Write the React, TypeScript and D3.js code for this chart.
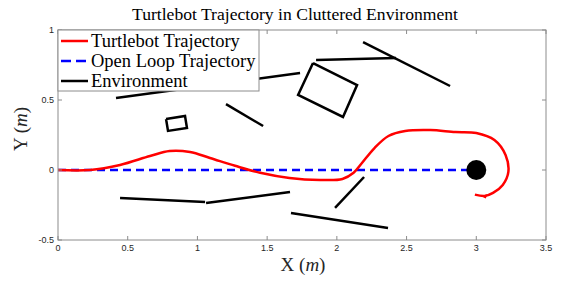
import * as d3 from "d3";

const W = 566;
const H = 282;
const MARGIN = { top: 30, right: 20, bottom: 42, left: 58 };

const xTicks = [0, 0.5, 1, 1.5, 2, 2.5, 3, 3.5];
const yTicks = [-0.5, 0, 0.5, 1];

// robot trajectory
const trajX = [0, 0.23, 0.445, 0.66, 0.8, 0.947, 1.09, 1.27, 1.45, 1.66, 1.88, 2.04, 2.12, 2.18, 2.27, 2.37, 2.49, 2.67, 2.85, 3.0, 3.13, 3.21, 3.23, 3.19, 3.12, 3.06, 2.99];
const trajY = [0, 0, 0.036, 0.1, 0.136, 0.129, 0.086, 0.03, -0.02, -0.057, -0.071, -0.064, -0.02, 0.05, 0.157, 0.243, 0.279, 0.286, 0.271, 0.264, 0.214, 0.107, -0.014, -0.107, -0.164, -0.186, -0.176];
// little hook at the end of the trajectory
const hookX = [3.05, 3.065, 3.06];
const hookY = [-0.19, -0.186, -0.2];

const openLoopX = [0, 3.0];
const openLoopY = [0, 0];

const goal = [3.0, 0];

// obstacles, each one a polyline
const envSegments: [number, number][][] = [
  [[0.416, 0.514], [1.736, 0.693]],
  [[1.829, 0.764], [2.145, 0.607], [2.044, 0.379], [1.722, 0.536], [1.829, 0.764]],
  [[1.851, 0.786], [2.425, 0.8]],
  [[2.188, 0.914], [2.812, 0.6]],
  [[0.775, 0.364], [0.911, 0.386], [0.925, 0.3], [0.789, 0.279], [0.775, 0.364]],
  [[1.205, 0.471], [1.471, 0.314]],
  [[0.445, -0.2], [1.055, -0.229]],
  [[1.062, -0.236], [1.664, -0.157]],
  [[1.671, -0.307], [2.367, -0.414]],
  [[1.987, -0.271], [2.195, -0.05]],
];

const legendItems = [
  { label: "Turtlebot Trajectory", color: "#ff0000", dash: "" },
  { label: "Open Loop Trajectory", color: "#0000ff", dash: "10,5" },
  { label: "Environment", color: "#000000", dash: "" },
];

export default function App() {
  const boundsWidth = W - MARGIN.left - MARGIN.right;
  const boundsHeight = H - MARGIN.top - MARGIN.bottom;

  const xScale = d3.scaleLinear().domain([0, 3.5]).range([MARGIN.left, MARGIN.left + boundsWidth]);
  const yScale = d3.scaleLinear().domain([-0.5, 1]).range([MARGIN.top + boundsHeight, MARGIN.top]);

  const line = d3
    .line<[number, number]>()
    .x((d) => xScale(d[0]))
    .y((d) => yScale(d[1]));
  const smooth = d3
    .line<[number, number]>()
    .x((d) => xScale(d[0]))
    .y((d) => yScale(d[1]))
    .curve(d3.curveCatmullRom.alpha(0.5));

  const traj = trajX.map((x, i) => [x, trajY[i]] as [number, number]);
  const hook = hookX.map((x, i) => [x, hookY[i]] as [number, number]);
  const openLoop = openLoopX.map((x, i) => [x, openLoopY[i]] as [number, number]);

  const x0 = MARGIN.left;
  const x1 = MARGIN.left + boundsWidth;
  const y0 = MARGIN.top;
  const y1 = MARGIN.top + boundsHeight;
  const axisColor = "#8c8c8c";
  const tickLen = 4;

  return (
    <svg width={W} height={H} style={{ position: "absolute", left: 0, top: 0, background: "white" }}>
      <text x={295} y={20} textAnchor="middle" fontFamily="Liberation Serif" fontSize={17.5} fill="#000" textLength={326} lengthAdjust="spacingAndGlyphs">
        Turtlebot Trajectory in Cluttered Environment
      </text>

      <clipPath id="plot">
        <rect x={x0} y={y0} width={boundsWidth} height={boundsHeight} />
      </clipPath>

      <g clipPath="url(#plot)">
        {envSegments.map((seg, i) => (
          <path key={i} d={line(seg) ?? ""} fill="none" stroke="#000" strokeWidth={2.5} />
        ))}
        <path d={line(openLoop) ?? ""} fill="none" stroke="#0000ff" strokeWidth={2.5} strokeDasharray="8,5" />
        <path d={smooth(traj) ?? ""} fill="none" stroke="#ff0000" strokeWidth={2.5} />
        <path d={line(hook) ?? ""} fill="none" stroke="#ff0000" strokeWidth={2.5} />
        <circle cx={xScale(goal[0])} cy={yScale(goal[1])} r={10} fill="#000" />
      </g>

      {/* frame and ticks */}
      <rect x={x0} y={y0} width={boundsWidth} height={boundsHeight} fill="none" stroke={axisColor} strokeWidth={1} />
      {xTicks.map((t) => (
        <g key={"x" + t}>
          <line x1={xScale(t)} x2={xScale(t)} y1={y1} y2={y1 - tickLen} stroke={axisColor} />
          <line x1={xScale(t)} x2={xScale(t)} y1={y0} y2={y0 + tickLen} stroke={axisColor} />
          <text x={xScale(t)} y={y1 + 11} textAnchor="middle" fontFamily="Liberation Sans" fontSize={9} fill="#262626">
            {t}
          </text>
        </g>
      ))}
      {yTicks.map((t) => (
        <g key={"y" + t}>
          <line x1={x0} x2={x0 + tickLen} y1={yScale(t)} y2={yScale(t)} stroke={axisColor} />
          <line x1={x1} x2={x1 - tickLen} y1={yScale(t)} y2={yScale(t)} stroke={axisColor} />
          <text x={x0 - 4} y={yScale(t) + 3} textAnchor="end" fontFamily="Liberation Sans" fontSize={9} fill="#262626">
            {t}
          </text>
        </g>
      ))}

      <text x={303} y={271} textAnchor="middle" fontFamily="Liberation Serif" fontSize={19} fill="#262626">
        X (<tspan fontStyle="italic">m</tspan>)
      </text>
      <text transform={`translate(27,${(y0 + y1) / 2 - 6}) rotate(-90)`} textAnchor="middle" fontFamily="Liberation Serif" fontSize={19} fill="#262626">
        Y (<tspan fontStyle="italic">m</tspan>)
      </text>

      {/* legend */}
      <g>
        <rect x={x0} y={y0} width={201} height={61} fill="#fff" stroke={axisColor} strokeWidth={1} />
        {legendItems.map((item, i) => (
          <g key={item.label} transform={`translate(${x0},${y0 + 11 + i * 20})`}>
            <line x1={3} x2={30} y1={0} y2={0} stroke={item.color} strokeWidth={2.5} strokeDasharray={item.dash} />
            <text x={33} y={5.5} fontFamily="Liberation Serif" fontSize={18.5} fill="#000">
              {item.label}
            </text>
          </g>
        ))}
      </g>
    </svg>
  );
}
